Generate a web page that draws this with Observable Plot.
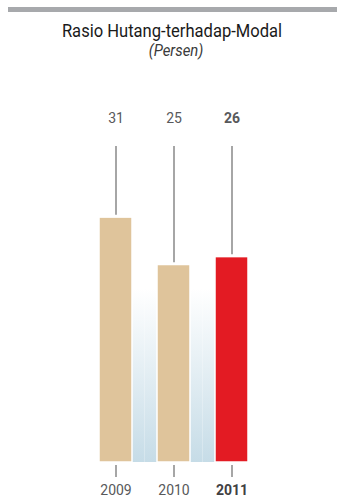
<!DOCTYPE html>
<html>
<head>
<meta charset="utf-8">
<script src="https://cdn.jsdelivr.net/npm/d3@7"></script>
<script src="https://cdn.jsdelivr.net/npm/@observablehq/plot@0.6"></script>
<style>
  html, body { margin: 0; padding: 0; background: #fff; }
  body { width: 337px; height: 498px; overflow: hidden; font-family: Roboto, "Liberation Sans", sans-serif; }
  .rule { position: absolute; left: 8px; right: 0; top: 7px; height: 5px; background: #a7a9ac; }
  .title { position: absolute; left: 0; width: 344px; top: 20px; text-align: center; font-size: 18px; color: #1a1a1a; transform: scaleX(0.92); transform-origin: 172px 0; }
  .subtitle { position: absolute; left: 0; width: 352px; top: 41px; text-align: center; font-size: 16px; font-style: italic; color: #3a3a3a; transform: scaleX(0.93); transform-origin: 176px 0; }
  #chart { position: absolute; left: 0; top: 70px; }
</style>
</head>
<body>
<div class="rule"></div>
<div class="title">Rasio Hutang-terhadap-Modal</div>
<div class="subtitle">(Persen)</div>
<div id="chart"></div>
<script>
// Debt-to-equity ratio, percent
const years = ["2009", "2010", "2011"];
const ratios = [31, 25, 26];
const highlightYear = "2011";

const rows = years.map((year, i) => ({year, ratio: ratios[i], current: year === highlightYear}));
const past = rows.filter(d => !d.current);
const current = rows.filter(d => d.current);

const yTop = 40;     // leader lines start here
const labelY = 43.5; // value labels sit above the leader lines
const yearY = -3.55; // year labels below the ticks
const washTop = 22;  // blue wash fades out at this level
const halfGap = -12.5;

const first = rows.filter(d => d.year === years[0]);
const middle = rows.filter(d => d.year !== years[0] && d.year !== years[years.length - 1]);
const last = rows.filter(d => d.year === years[years.length - 1]);

const washOpts = {x: "year", y1: 0, y2: washTop, fill: "url(#wash)"};

const chart = Plot.plot({
  width: 337,
  height: 428,
  marginLeft: 86.5,
  marginRight: 76.5,
  marginTop: 76,
  marginBottom: 33,
  insetBottom: 3,
  style: {fontFamily: "Roboto, 'Liberation Sans', sans-serif", background: "transparent"},
  x: {domain: years, paddingInner: 0.43, paddingOuter: 0.215, axis: null},
  y: {domain: [0, yTop], axis: null},
  marks: [
    () => {
      const defs = d3.create("svg:defs");
      const grad = defs.append("linearGradient")
        .attr("id", "wash").attr("x1", 0).attr("y1", 0).attr("x2", 0).attr("y2", 1);
      grad.append("stop").attr("offset", 0).attr("stop-color", "#ffffff");
      grad.append("stop").attr("offset", 1).attr("stop-color", "#c6dce7");
      return defs.node();
    },
    // blue wash fills the gaps between neighbouring bars
    Plot.barY(first, {...washOpts, insetRight: halfGap}),
    Plot.barY(middle, {...washOpts, insetLeft: halfGap, insetRight: halfGap}),
    Plot.barY(last, {...washOpts, insetLeft: halfGap}),
    Plot.barY(past, {x: "year", y: "ratio", fill: "#dfc49b", stroke: "#ffffff", strokeWidth: 1.5}),
    Plot.barY(current, {x: "year", y: "ratio", fill: "#e31b23", stroke: "#ffffff", strokeWidth: 1.5}),
    Plot.ruleX(rows, {x: "year", y1: d => d.ratio + 0.3, y2: yTop, stroke: "#808080", strokeWidth: 1.4}),
    Plot.ruleX(rows, {x: "year", y1: -0.38, y2: -1.9, stroke: "#808080", strokeWidth: 1.4}),
    Plot.text(past, {x: "year", y: labelY, text: d => String(d.ratio), fontSize: 14, fill: "#58595b"}),
    Plot.text(current, {x: "year", y: labelY, text: d => String(d.ratio), fontSize: 14, fontWeight: "bold", fill: "#58595b"}),
    Plot.text(past, {x: "year", y: yearY, text: "year", fontSize: 14, fill: "#58595b"}),
    Plot.text(current, {x: "year", y: yearY, text: "year", fontSize: 14, fontWeight: "bold", fill: "#414042"})
  ]
});
document.getElementById("chart").append(chart);
</script>
</body>
</html>
